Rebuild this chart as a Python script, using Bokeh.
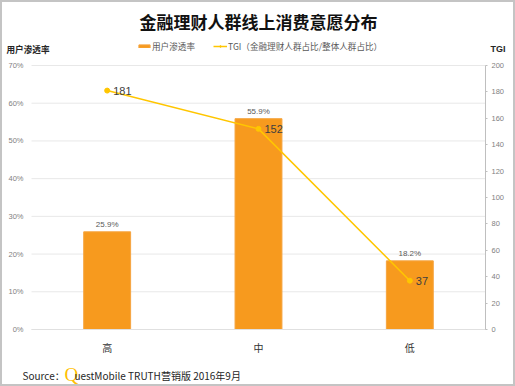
from bokeh.plotting import figure
from bokeh.models import (Range1d, LinearAxis, Label, LabelSet, ColumnDataSource,
                          Legend, LegendItem, FixedTicker, PrintfTickFormatter)
from bokeh.core.properties import value
from bokeh.embed import file_html
from bokeh.resources import INLINE

categories = ["高", "中", "低"]
penetration = [25.9, 55.9, 18.2]
tgi = [181, 152, 37]
pen_labels = ["25.9%", "55.9%", "18.2%"]
tgi_labels = ["181", "152", "37"]
pen_ticks = [0, 10, 20, 30, 40, 50, 60, 70]
tgi_ticks = [0, 20, 40, 60, 80, 100, 120, 140, 160, 180, 200]

CJK = "Noto Sans CJK SC"
LAT = "Liberation Sans"

xpos = [i + 0.5 for i in range(len(categories))]
src = ColumnDataSource(dict(x=xpos, pen=penetration, tgi=tgi,
                            pen_lab=pen_labels, tgi_lab=tgi_labels))

W, H = 515, 386
PX_PER_CAT = 151.33
PX_PER_PCT = 3.7714
x0_px, y0_px = 31, 57          # data origin within the canvas (from left / from bottom)
xr = Range1d(-x0_px / PX_PER_CAT, (W - x0_px) / PX_PER_CAT)
yr = Range1d(-y0_px / PX_PER_PCT, (H - y0_px) / PX_PER_PCT)
k = 200 / 70
tr = Range1d(yr.start * k, yr.end * k)

p = figure(width=W, height=H, x_range=xr, y_range=yr, output_backend="svg",
           toolbar_location=None, min_border=0, x_axis_location=None, y_axis_location=None)
p.extra_y_ranges = {"tgi": tr}
p.outline_line_color = "#C4C4C4"
p.outline_line_width = 3
p.background_fill_color = "white"
p.border_fill_color = "white"
p.xgrid.visible = False
p.ygrid.visible = False

# horizontal gridlines at the left-axis ticks
p.segment(x0=[0] * len(pen_ticks), x1=[len(categories)] * len(pen_ticks), y0=pen_ticks, y1=pen_ticks,
          line_color="#E8E8E8", line_width=1)

# left axis
la = LinearAxis(fixed_location=0, ticker=FixedTicker(ticks=pen_ticks),
                formatter=PrintfTickFormatter(format="%d%%"), bounds=(0, 70))
la.axis_line_color = None
la.major_tick_line_color = None
la.major_tick_out = 0
la.major_tick_in = 0
la.minor_tick_line_color = None
la.major_label_standoff = 8
la.major_label_text_font = LAT
la.major_label_text_font_size = "7.5px"
la.major_label_text_color = "#7f7f7f"
p.add_layout(la, "left")

# x axis
xa = LinearAxis(fixed_location=0, ticker=FixedTicker(ticks=xpos),
                major_label_overrides={x: c for x, c in zip(xpos, categories)},
                bounds=(0, len(categories)))
xa.axis_line_color = "#E0E0E0"
xa.major_tick_line_color = None
xa.major_tick_out = 0
xa.major_tick_in = 0
xa.minor_tick_line_color = None
xa.major_label_standoff = 10
xa.major_label_text_font = CJK
xa.major_label_text_font_size = "10px"
xa.major_label_text_color = "#333333"
p.add_layout(xa, "below")

# right axis
ra = LinearAxis(y_range_name="tgi", fixed_location=len(categories),
                ticker=FixedTicker(ticks=tgi_ticks), bounds=(0, 200))
ra.axis_line_color = "#BFBFBF"
ra.major_tick_line_color = "#BFBFBF"
ra.major_tick_out = 2
ra.major_tick_in = 0
ra.minor_tick_line_color = None
ra.major_label_standoff = 4
ra.major_label_text_font = LAT
ra.major_label_text_font_size = "7.5px"
ra.major_label_text_color = "#7f7f7f"
p.add_layout(ra, "right")

bars = p.vbar(x="x", top="pen", width=0.31, source=src, fill_color="#F79A1E",
              line_color="#F5A540")
line = p.line(x="x", y="tgi", source=src, y_range_name="tgi", line_color="#FFC600", line_width=1.5)
pts = p.scatter(x="x", y="tgi", source=src, y_range_name="tgi", size=5,
                fill_color="#FFC600", line_color="#FFC600")

p.add_layout(LabelSet(x="x", y="pen", text="pen_lab", source=src, y_offset=3,
                      text_align="center", text_baseline="bottom", text_font=value(LAT),
                      text_font_size="8px", text_color="#595959"))
p.add_layout(LabelSet(x="x", y="tgi", text="tgi_lab", source=src, y_range_name="tgi",
                      x_offset=6, text_align="left", text_baseline="middle", text_font=value(LAT),
                      text_font_size="11px", text_color="#404040"))

legend = Legend(items=[LegendItem(label="用户渗透率", renderers=[bars]),
                       LegendItem(label="TGI（金融理财人群占比/整体人群占比）", renderers=[line, pts])],
                orientation="horizontal", location=(137, 334))
legend.glyph_width = 14
legend.glyph_height = 4
legend.label_height = 4
legend.label_standoff = 1
legend.spacing = 18
legend.padding = 0
legend.margin = 0
legend.border_line_color = None
legend.background_fill_alpha = 0
legend.label_text_font = CJK
legend.label_text_font_size = "8.6px"
legend.label_text_color = "#595959"
p.add_layout(legend, "center")

def lab(text, x, y, size, color="#262626", font=CJK, style="normal", align="left"):
    p.add_layout(Label(x=x, y=y, x_units="screen", y_units="screen", text=text,
                       text_font=font, text_font_size=size, text_color=color,
                       text_font_style=style, text_align=align, text_baseline="middle"))

lab("金融理财人群线上消费意愿分布", 258, 365, "17px", color="#111111", style="bold", align="center")
lab("用户渗透率", 6, 338, "8.6px", style="bold")
lab("TGI", 490, 338, "9px", style="bold", font=LAT)
lab("Source：", 22, 11, "10px", font=CJK)
lab("Q", 64, 12, "19px", color="#FFC000", font="Liberation Sans Narrow")
lab("uestMobile TRUTH营销版 2016年9月", 74, 11, "10px", font=CJK)

open("out.html", "w").write(file_html(p, INLINE))
